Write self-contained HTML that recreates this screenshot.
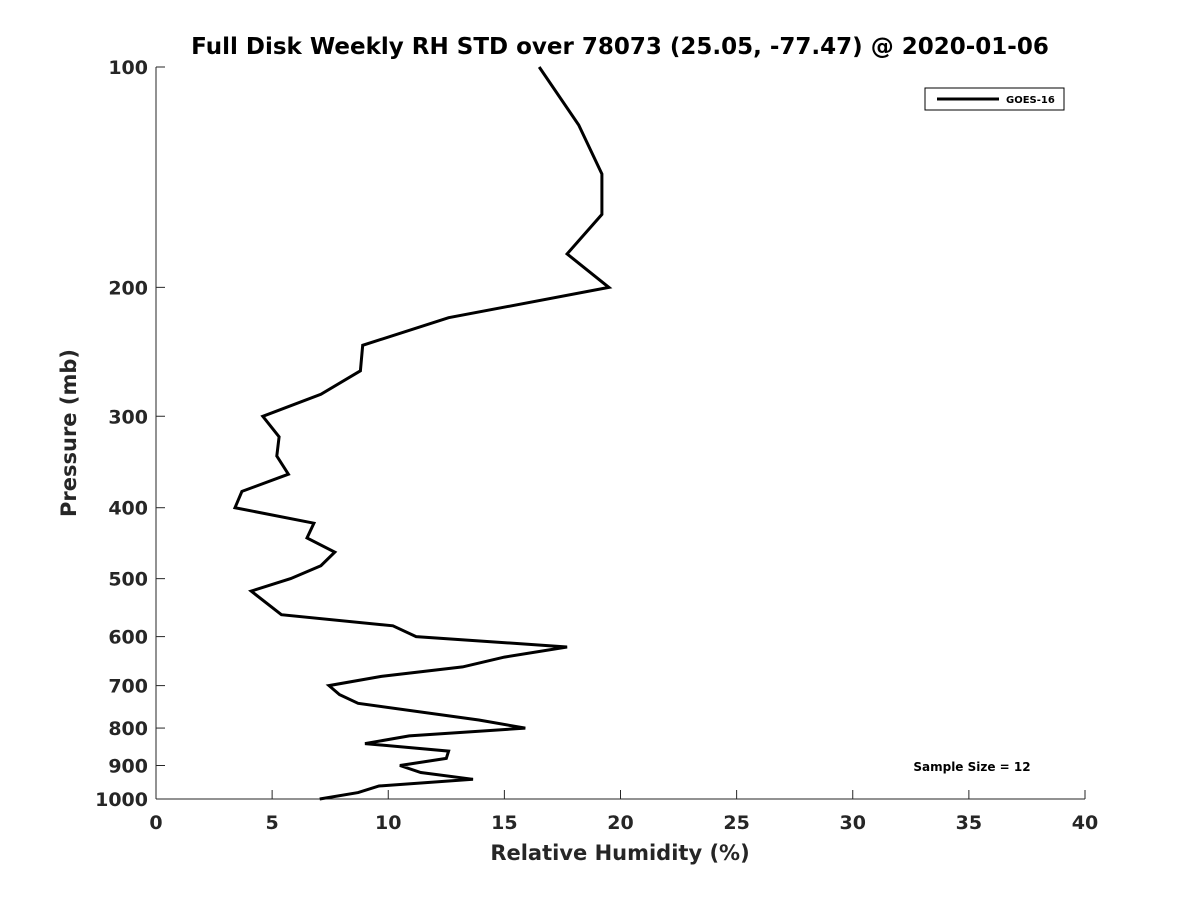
<!DOCTYPE html>
<html><head><meta charset="utf-8"><style>
body{margin:0;background:#fff;}
svg text{font-family:"DejaVu Sans","Liberation Sans",sans-serif;font-weight:bold;fill:#262626;}
</style></head><body>
<svg id="chart" width="1200" height="900" xmlns="http://www.w3.org/2000/svg">
<rect width="1200" height="900" fill="#fff"/>
<text x="620" y="54" text-anchor="middle" font-size="23" style="fill:#000">Full Disk Weekly RH STD over 78073 (25.05, -77.47) @ 2020-01-06</text>
<g id="axes"></g>
<text x="620" y="860" text-anchor="middle" font-size="21">Relative Humidity (%)</text>
<text transform="translate(76,433) rotate(-90)" text-anchor="middle" font-size="21">Pressure (mb)</text>
<g>
<rect x="925" y="88" width="139" height="22" fill="#fff" stroke="#000" stroke-width="1"/>
<line x1="937" y1="99" x2="999" y2="99" stroke="#000" stroke-width="3"/>
<text x="1006" y="103" font-size="10" style="fill:#000">GOES-16</text>
</g>
<text x="972" y="771" text-anchor="middle" font-size="12" style="fill:#000">Sample Size = 12</text>
</svg>
<script>
const pressures=[100,120,140,159,180,200,220,240,260,280,300,320,340,360,380,400,420,440,460,480,500,520,560,580,600,620,640,660,680,700,720,740,780,800,820,840,860,880,900,920,940,960,980,1000];
const rhValues=[16.5,18.2,19.2,19.2,17.7,19.5,12.6,8.9,8.8,7.1,4.6,5.3,5.2,5.7,3.7,3.4,6.8,6.5,7.7,7.1,5.8,4.1,5.4,10.2,11.2,17.7,15.0,13.2,9.7,7.45,7.9,8.7,13.9,15.9,10.9,9.0,12.6,12.5,10.5,11.4,13.65,9.6,8.7,7.05];
const xTicks=[0,5,10,15,20,25,30,35,40];
const yTicks=[100,200,300,400,500,600,700,800,900,1000];
const X0=156,X1=1085,Y0=67,Y1=799;
const xs=v=>X0+(v/40)*(X1-X0);
const ys=p=>Y0+(Math.log10(p)-2)*(Y1-Y0);
const NS='http://www.w3.org/2000/svg';
const svg=document.getElementById('chart');
const ax=document.getElementById('axes');
function mk(t,a,parent){const e=document.createElementNS(NS,t);for(const k in a)e.setAttribute(k,a[k]);(parent||ax).appendChild(e);return e;}
const yl=mk('line',{x1:X0,y1:Y0,x2:X0,y2:Y1,stroke:'#262626','stroke-width':1});


const xl=mk('line',{x1:X0,y1:Y1,x2:X1,y2:Y1,stroke:'#262626','stroke-width':1});


xTicks.forEach(v=>{
 mk('line',{x1:xs(v),y1:Y1,x2:xs(v),y2:Y1-9,stroke:'#262626','stroke-width':1});
 const t=mk('text',{x:xs(v),y:Y1+30,'text-anchor':'middle','font-size':19});
 t.textContent=v;
 
 
});
yTicks.forEach(p=>{
 mk('line',{x1:X0,y1:ys(p),x2:X0+9,y2:ys(p),stroke:'#262626','stroke-width':1});
 const t=mk('text',{x:X0-8,y:ys(p)+7,'text-anchor':'end','font-size':19});
 t.textContent=p;
 
 
});
const pts=pressures.map((p,i)=>xs(rhValues[i]).toFixed(1)+','+ys(p).toFixed(1)).join(' ');
const line=mk('polyline',{points:pts,fill:'none',stroke:'#000','stroke-width':3,'stroke-linejoin':'miter'},svg);


</script>
</body></html>
